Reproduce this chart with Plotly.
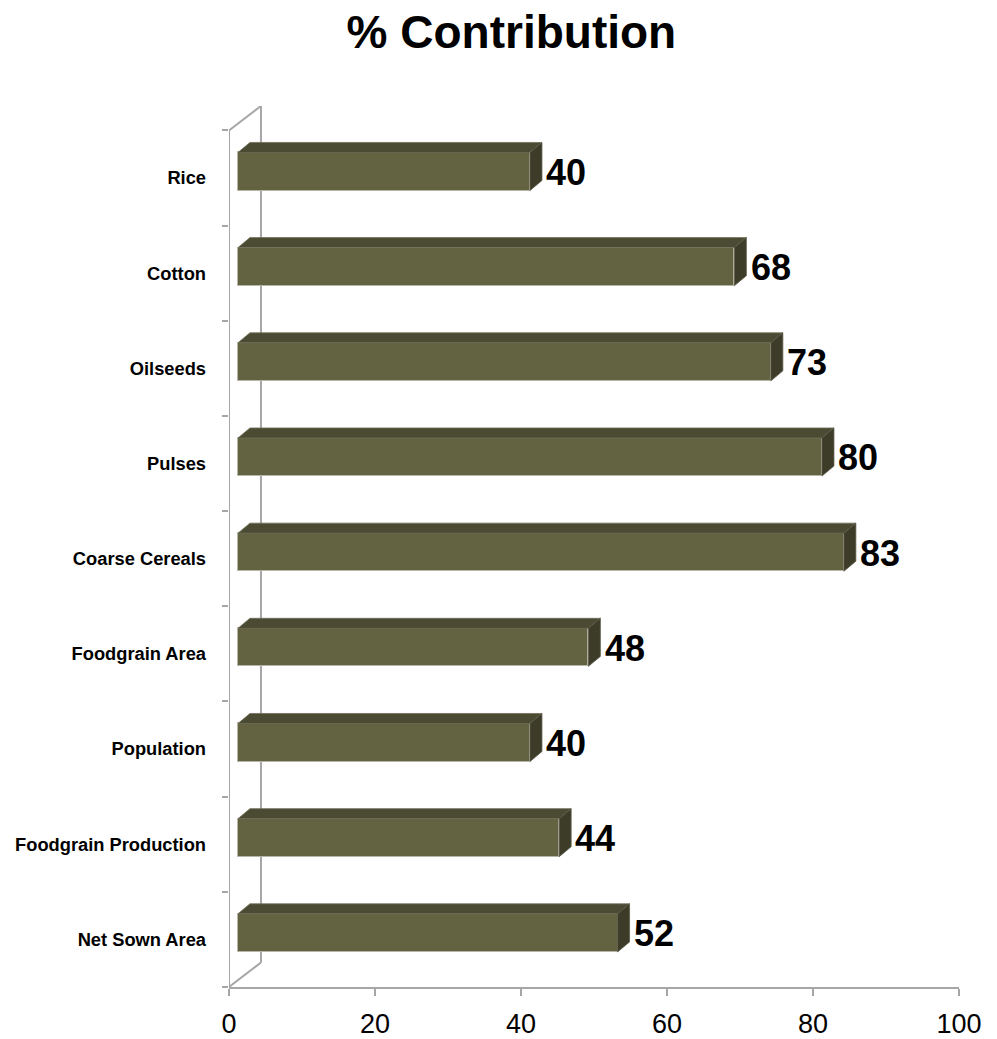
import plotly.graph_objects as go

# ---- data ----
categories = ["Net Sown Area", "Foodgrain Production", "Population", "Foodgrain Area",
              "Coarse Cereals", "Pulses", "Oilseeds", "Cotton", "Rice"]
values = [52, 44, 40, 48, 83, 80, 73, 68, 40]
x_ticks = [0, 20, 40, 60, 80, 100]

# ---- pseudo-3D projection parameters (axis units) ----
WALL_DX, WALL_DY = 4.38, 0.257     # depth of the back wall
FRONT_DX, FRONT_DY = 1.23, 0.069   # offset of the bar front face
BACK_DX, BACK_DY = 2.87, 0.174     # offset of the bar back face
HALF = 0.2                         # half bar thickness

FRONT = "#636342"
TOP = "#4b4a33"
SIDE = "#3d3c29"
GRID = "#a6a6a6"
FONT = "Liberation Sans, Arial"

ypos = list(range(len(categories)))
n = len(categories)

fig = go.Figure()

tx, ty, sx, sy = [], [], [], []
rise = BACK_DY - FRONT_DY
for i, v in zip(ypos, values):
    c = i + FRONT_DY
    top, bot = c + HALF, c - HALF
    tx += [FRONT_DX, v + FRONT_DX, v + BACK_DX, BACK_DX, FRONT_DX, None]
    ty += [top, top, top + rise, top + rise, top, None]
    sx += [v + FRONT_DX, v + FRONT_DX, v + BACK_DX, v + BACK_DX, v + FRONT_DX, None]
    sy += [bot, top, top + rise, bot + rise, bot, None]

# top faces
fig.add_trace(go.Scatter(x=tx, y=ty, mode="lines", fill="toself", fillcolor=TOP,
                         line=dict(color="#6f6e58", width=0.8), hoverinfo="skip", showlegend=False))
# side faces
fig.add_trace(go.Scatter(x=sx, y=sy, mode="lines", fill="toself", fillcolor=SIDE,
                         line=dict(color="#5a5946", width=0.8), hoverinfo="skip", showlegend=False))
# front faces
fig.add_trace(go.Bar(orientation="h", y=[i + FRONT_DY for i in ypos], x=values,
                     base=[FRONT_DX] * n, width=2 * HALF,
                     marker=dict(color=FRONT, line=dict(color="#b5b5a8", width=1)),
                     showlegend=False, hoverinfo="skip"))

# value labels
for i, v in zip(ypos, values):
    fig.add_annotation(x=v + BACK_DX + 0.3, y=i + FRONT_DY - 0.01, text=f"<b>{v}</b>",
                       showarrow=False, xanchor="left", yanchor="middle",
                       font=dict(size=36, color="black", family=FONT))

# walls
wall_shapes = [
    dict(x0=0, y0=-0.5, x1=0, y1=n - 0.5),
    dict(x0=WALL_DX, y0=-0.5 + WALL_DY, x1=WALL_DX, y1=n - 0.5 + WALL_DY),
    dict(x0=0, y0=n - 0.5, x1=WALL_DX, y1=n - 0.5 + WALL_DY),
    dict(x0=0, y0=-0.5, x1=WALL_DX, y1=-0.5 + WALL_DY),
]
for s in wall_shapes:
    fig.add_shape(type="line", xref="x", yref="y", line=dict(color=GRID, width=2), layer="below", **s)

fig.update_layout(
    width=989, height=1031,
    paper_bgcolor="white", plot_bgcolor="white",
    margin=dict(l=221, r=38, t=98, b=52, autoexpand=False),
    title=dict(text="<b>% Contribution</b>", x=0.509, xanchor="center", y=0.9768, yanchor="middle",
               font=dict(size=46, color="black", family=FONT)),
    xaxis=dict(range=[0, 100], tickvals=x_ticks, ticktext=[str(t) for t in x_ticks],
               automargin=False,
               showgrid=False, zeroline=False, showline=True, linecolor=GRID, linewidth=2,
               ticks="outside", ticklen=7, tickwidth=2, tickcolor=GRID,
               ticklabelstandoff=5,
               tickfont=dict(size=27, color="black", family=FONT)),
    yaxis=dict(range=[-0.5, n - 0.5 + WALL_DY], tickvals=ypos,
               ticktext=[f"<b>{c}</b>" for c in categories],
               automargin=False,
               showgrid=False, zeroline=False, showline=False, ticks="",
               ticklabelstandoff=22,
               minor=dict(tickvals=[k - 0.5 for k in range(n + 1)], ticks="outside", ticklen=6,
                          tickwidth=2, tickcolor=GRID, showgrid=False),
               tickfont=dict(size=18.3, color="black", family=FONT)),
    bargap=0,
)

fig.write_html("out.html")
